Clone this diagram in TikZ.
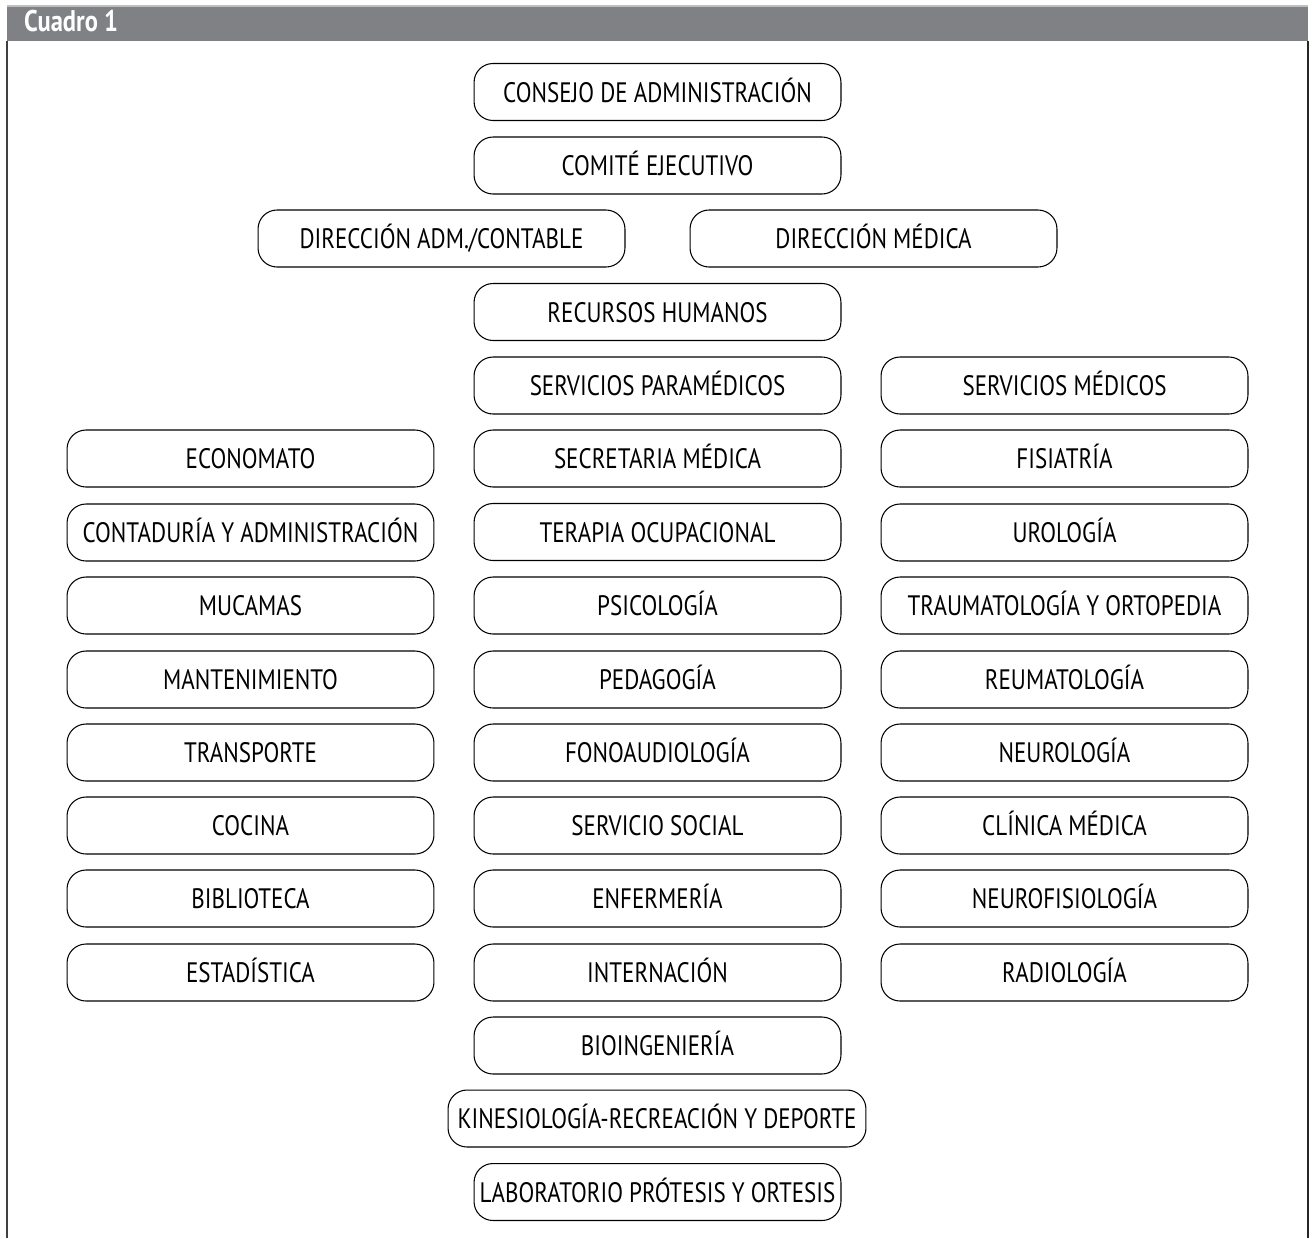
\documentclass[tikz,border=0pt]{standalone}
\usepackage{fontspec}
\setmainfont{PT Sans}
\newfontfamily\narrowfont[FakeStretch=0.82]{PT Sans}
\usetikzlibrary{positioning}

\definecolor{bandgray}{RGB}{128,129,132}

\tikzset{
  unit/.style={draw, line width=0.6pt, rounded corners=0.38cm,
    minimum width=7.34cm, minimum height=1.14cm, inner sep=0pt,
    text height=11.4pt, text depth=0pt,
    font=\narrowfont\fontsize{16}{18}\selectfont},
  wideunit/.style={unit, minimum width=8.36cm}
}

\begin{document}
\begin{tikzpicture}[x=0.02cm, y=-0.02cm]
    % Page size
    \useasboundingbox (0,0) rectangle (1314,1238);

    % Frame and title band
    \fill[bandgray] (7,6) rectangle (1308,41);
    \draw[gray!50, line width=0.8pt] (7,6) -- (1308,6);
    \draw[black!75, line width=1.2pt] (7,41) -- (7,1238);
    \draw[black!85, line width=1.2pt] (1308,41) -- (1308,1238);
    \node[anchor=west, text=white, font=\narrowfont\bfseries\fontsize{17}{19}\selectfont] (title) at (18,21) {Cuadro 1};

    % Top of the hierarchy
    \node[unit] (consejo) at (657.5,92) {CONSEJO DE ADMINISTRACIÓN};
    \node[unit] (comite) at (657.5,165.5) {COMITÉ EJECUTIVO};
    \node[unit] (diradm) at (441.5,238.5) {DIRECCIÓN ADM./CONTABLE};
    \node[unit] (dirmed) at (873.5,238.5) {DIRECCIÓN MÉDICA};
    \node[unit] (rrhh) at (657.5,312) {RECURSOS HUMANOS};

    % Center column
    \node[unit] (paramed) at (657.5,385.5) {SERVICIOS PARAMÉDICOS};
    \node[unit] (secret) at (657.5,458.5) {SECRETARIA MÉDICA};
    \node[unit] (terapia) at (657.5,532) {TERAPIA OCUPACIONAL};
    \node[unit] (psico) at (657.5,605.5) {PSICOLOGÍA};
    \node[unit] (pedago) at (657.5,679.5) {PEDAGOGÍA};
    \node[unit] (fono) at (657.5,752.5) {FONOAUDIOLOGÍA};
    \node[unit] (social) at (657.5,825.5) {SERVICIO SOCIAL};
    \node[unit] (enferm) at (657.5,898.5) {ENFERMERÍA};
    \node[unit] (intern) at (657.5,972.5) {INTERNACIÓN};
    \node[unit] (bioing) at (657.5,1045.5) {BIOINGENIERÍA};
    \node[wideunit] (kinesio) at (657,1118.5) {KINESIOLOGÍA-RECREACIÓN Y DEPORTE};
    \node[unit] (protesis) at (657.5,1192) {LABORATORIO PRÓTESIS Y ORTESIS};

    % Left column
    \node[unit] (economato) at (250.5,458.5) {ECONOMATO};
    \node[unit] (contad) at (250.5,532.5) {CONTADURÍA Y ADMINISTRACIÓN};
    \node[unit] (mucamas) at (250.5,605.5) {MUCAMAS};
    \node[unit] (manten) at (250.5,679.5) {MANTENIMIENTO};
    \node[unit] (transp) at (250.5,752.5) {TRANSPORTE};
    \node[unit] (cocina) at (250.5,825.5) {COCINA};
    \node[unit] (biblio) at (250.5,898.5) {BIBLIOTECA};
    \node[unit] (estad) at (250.5,972.5) {ESTADÍSTICA};

    % Right column
    \node[unit] (servmed) at (1064.5,385.5) {SERVICIOS MÉDICOS};
    \node[unit] (fisiat) at (1064.5,458.5) {FISIATRÍA};
    \node[unit] (urolog) at (1064.5,532.5) {UROLOGÍA};
    \node[unit] (trauma) at (1064.5,605.5) {TRAUMATOLOGÍA Y ORTOPEDIA};
    \node[unit] (reuma) at (1064.5,679.5) {REUMATOLOGÍA};
    \node[unit] (neuro) at (1064.5,752.5) {NEUROLOGÍA};
    \node[unit] (clinica) at (1064.5,825.5) {CLÍNICA MÉDICA};
    \node[unit] (neurofis) at (1064.5,898.5) {NEUROFISIOLOGÍA};
    \node[unit] (radio) at (1064.5,972.5) {RADIOLOGÍA};
\end{tikzpicture}
\end{document}
